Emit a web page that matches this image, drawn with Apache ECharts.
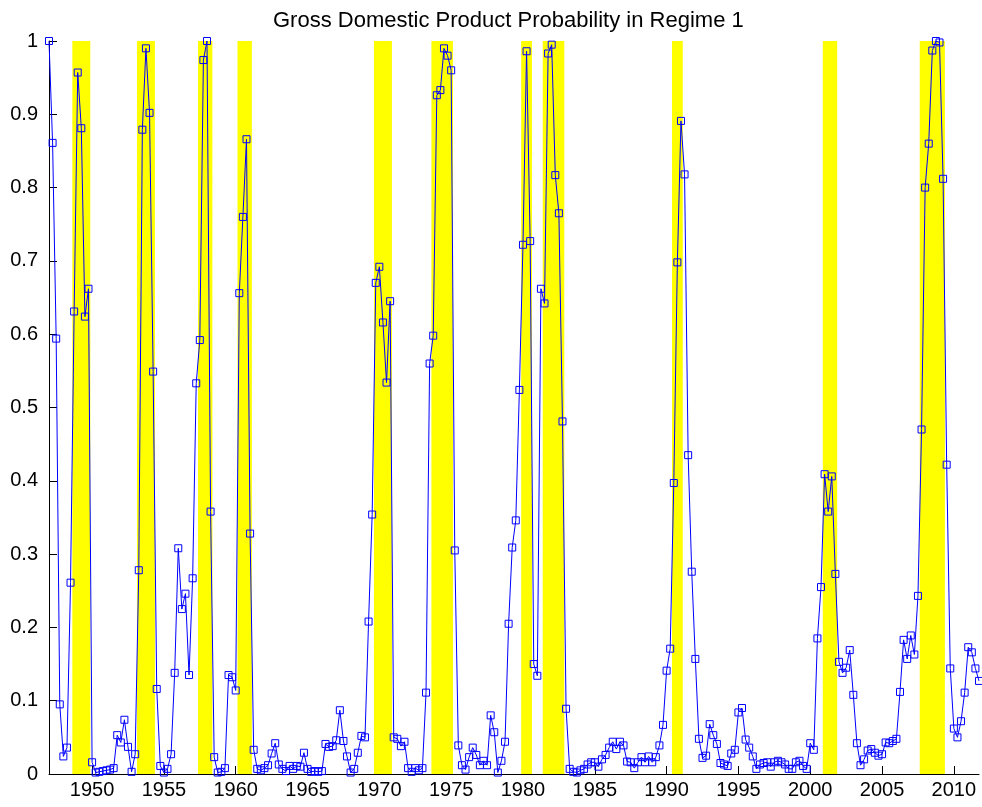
<!DOCTYPE html>
<html>
<head>
<meta charset="utf-8">
<script src="https://cdn.jsdelivr.net/npm/echarts@6/dist/echarts.min.js"></script>
<style>
html,body{margin:0;padding:0;background:#fff;}
#chart{width:982px;height:807px;}
</style>
</head>
<body>
<div id="chart"></div>
<script>
// Quarterly data, first quarter = 1947Q1
const startYear = 1947;
const probRegime1 = [
1.000,0.861,0.594,0.095,0.024,0.036,0.261,0.631,0.957,0.881,
0.624,0.662,0.016,0.002,0.003,0.004,0.005,0.006,0.008,0.053,
0.043,0.074,0.037,0.003,0.027,0.278,0.879,0.990,0.902,0.549,
0.116,0.011,0.002,0.007,0.027,0.138,0.308,0.225,0.246,0.135,
0.267,0.533,0.592,0.974,1.000,0.358,0.023,0.002,0.003,0.008,
0.135,0.132,0.114,0.656,0.760,0.866,0.328,0.033,0.007,0.005,
0.008,0.012,0.028,0.042,0.013,0.007,0.004,0.011,0.007,0.011,
0.010,0.029,0.007,0.003,0.004,0.003,0.004,0.041,0.037,0.038,
0.046,0.087,0.045,0.024,0.002,0.007,0.029,0.052,0.050,0.208,
0.354,0.670,0.692,0.616,0.534,0.645,0.050,0.048,0.038,0.044,
0.008,0.003,0.008,0.005,0.008,0.111,0.560,0.598,0.926,0.933,
0.990,0.980,0.960,0.305,0.039,0.012,0.006,0.023,0.036,0.026,
0.012,0.018,0.012,0.080,0.057,0.002,0.018,0.044,0.205,0.309,
0.346,0.524,0.722,0.986,0.727,0.150,0.134,0.662,0.642,0.983,
0.995,0.817,0.765,0.481,0.089,0.007,0.003,0.002,0.005,0.007,
0.013,0.016,0.016,0.010,0.020,0.026,0.036,0.044,0.034,0.044,
0.039,0.017,0.016,0.008,0.016,0.023,0.016,0.024,0.016,0.023,
0.039,0.067,0.141,0.171,0.397,0.698,0.891,0.818,0.435,0.276,
0.157,0.048,0.022,0.025,0.068,0.053,0.041,0.015,0.013,0.011,
0.028,0.033,0.084,0.090,0.047,0.036,0.024,0.007,0.013,0.015,
0.016,0.010,0.016,0.018,0.016,0.013,0.007,0.007,0.016,0.018,
0.011,0.007,0.042,0.033,0.185,0.255,0.409,0.358,0.406,0.273,
0.153,0.138,0.145,0.169,0.108,0.042,0.012,0.020,0.032,0.034,
0.029,0.025,0.027,0.043,0.042,0.045,0.048,0.112,0.183,0.157,
0.189,0.163,0.243,0.470,0.800,0.860,0.987,1.000,0.998,0.812,
0.422,0.144,0.062,0.050,0.072,0.111,0.173,0.166,0.144,0.127
];
// Recession quarters (peak quarter, trough quarter) in decimal years
const recessionStart = [1948.75,1953.25,1957.5,1960.25,1969.75,1973.75,1980.0,1981.5,1990.5,2001.0,2007.75];
const recessionEnd   = [1949.75,1954.25,1958.25,1961.0,1970.75,1975.0,1980.5,1982.75,1991.0,2001.75,2009.25];
const xTickLabels = [1950,1955,1960,1965,1970,1975,1980,1985,1990,1995,2000,2005,2010];
const titleText = 'Gross Domestic Product Probability in Regime 1';

const lineData = probRegime1.map((v, i) => [startYear + i / 4, v]);
const bandData = recessionStart.map((s, k) => [s, recessionEnd[k]]);
const lastX = startYear + (probRegime1.length - 1) / 4;

const FONT = "'Liberation Sans', Arial, Helvetica, sans-serif";
const chart = echarts.init(document.getElementById('chart'), null, {renderer: 'canvas'});
chart.setOption({
  animation: false,
  backgroundColor: '#ffffff',
  title: {
    text: titleText,
    left: 268, top: 5,
    textStyle: {fontFamily: FONT, fontSize: 22, fontWeight: 'normal', color: '#000'}
  },
  grid: {left: 49, right: 3, top: 41, bottom: 33, containLabel: false},
  xAxis: {
    type: 'value', min: startYear, max: lastX,
    splitLine: {show: false},
    axisLine: {show: true, onZero: false, lineStyle: {color: '#000', width: 1}},
    axisTick: {show: true, inside: true, length: 8, customValues: xTickLabels, lineStyle: {color: '#000'}},
    axisLabel: {customValues: xTickLabels, margin: 6, fontFamily: FONT, fontSize: 20, color: '#000', formatter: v => String(v)}
  },
  yAxis: {
    type: 'value', min: 0, max: 1, interval: 0.1,
    splitLine: {show: false},
    axisLine: {show: true, lineStyle: {color: '#000', width: 1}},
    axisTick: {show: true, inside: true, length: 8, lineStyle: {color: '#000'}},
    axisLabel: {margin: 11, fontFamily: FONT, fontSize: 20, color: '#000',
      formatter: v => String(Math.round(v * 10) / 10)}
  },
  series: [
    {
      type: 'custom',
      z: 1,
      silent: true,
      data: bandData,
      encode: {x: [0, 1]},
      renderItem: function (params, api) {
        const half = 0.125;
        const p0 = api.coord([api.value(0) - half, 1]);
        const p1 = api.coord([api.value(1) + half, 0]);
        return {
          type: 'rect',
          shape: {x: p0[0], y: p0[1], width: p1[0] - p0[0], height: p1[1] - p0[1]},
          style: {fill: '#ffff00'}
        };
      }
    },
    {
      type: 'line',
      z: 3,
      data: lineData,
      symbol: 'rect',
      symbolSize: 7,
      showSymbol: true,
      showAllSymbol: true,
      clip: false,
      lineStyle: {color: '#0000ff', width: 1},
      itemStyle: {color: 'rgba(0,0,0,0)', borderColor: '#0000ff', borderWidth: 1}
    }
  ]
});
</script>
</body>
</html>
